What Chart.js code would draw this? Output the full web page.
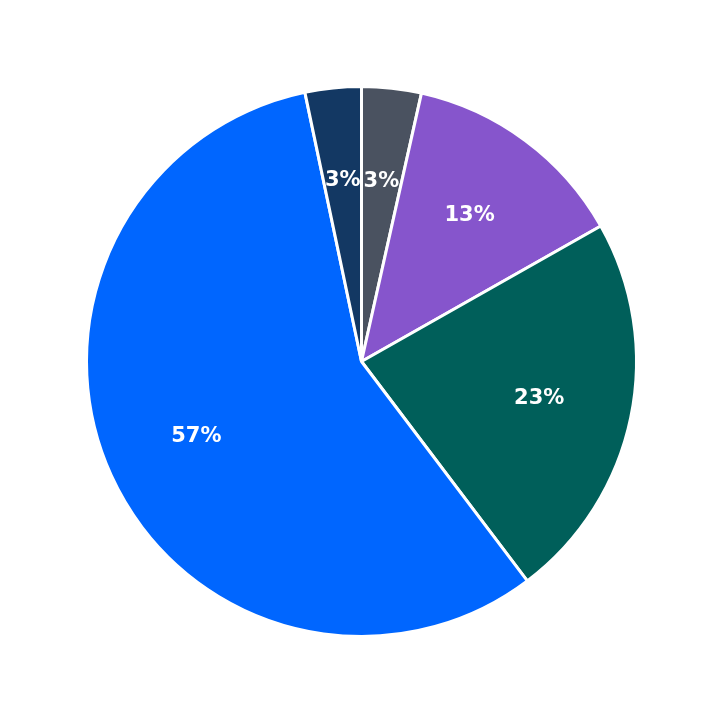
<!DOCTYPE html>
<html>
<head>
<meta charset="utf-8">
<script src="https://cdn.jsdelivr.net/npm/chart.js@4/dist/chart.umd.min.js"></script>
<style>
  html, body { margin: 0; padding: 0; background: #fff; }
  #wrap { width: 723px; height: 723px; }
</style>
</head>
<body>
<div id="wrap"><canvas id="pie"></canvas></div>
<script>
/* ==========================
   DATA
========================== */
const categories = ["A", "B", "C", "D", "E"];
const shares = [3.5, 13.3, 22.9, 57.0, 3.3];
const shareLabels = ["3%", "13%", "23%", "57%", "3%"];
const sliceColors = ["#4a5260", "#8655cc", "#005f5a", "#0066ff", "#133863"];

/* ==========================
   SLICE LABELS
========================== */
const sliceLabels = {
    id: "sliceLabels",
    afterDatasetsDraw(chart){
        const ctx = chart.ctx;
        const meta = chart.getDatasetMeta(0);
        ctx.save();
        ctx.fillStyle = "#ffffff";
        ctx.font = "bold 21px 'DejaVu Sans'";
        ctx.textAlign = "center";
        ctx.textBaseline = "middle";
        meta.data.forEach((arc, i) => {
            const mid = (arc.startAngle + arc.endAngle) / 2;
            const r = arc.outerRadius * 0.66;
            ctx.fillText(shareLabels[i], arc.x + Math.cos(mid) * r, arc.y + Math.sin(mid) * r);
        });
        ctx.restore();
    }
};

new Chart(document.getElementById("pie"), {
    type: "pie",
    data: {
        labels: categories,
        datasets: [{
            data: shares,
            backgroundColor: sliceColors,
            borderColor: "#ffffff",
            borderWidth: 3
        }]
    },
    options: {
        responsive: true,
        maintainAspectRatio: false,
        animation: false,
        layout: { padding: 85 },
        plugins: { legend: { display: false }, tooltip: { enabled: false } }
    },
    plugins: [sliceLabels]
});
</script>
</body>
</html>
